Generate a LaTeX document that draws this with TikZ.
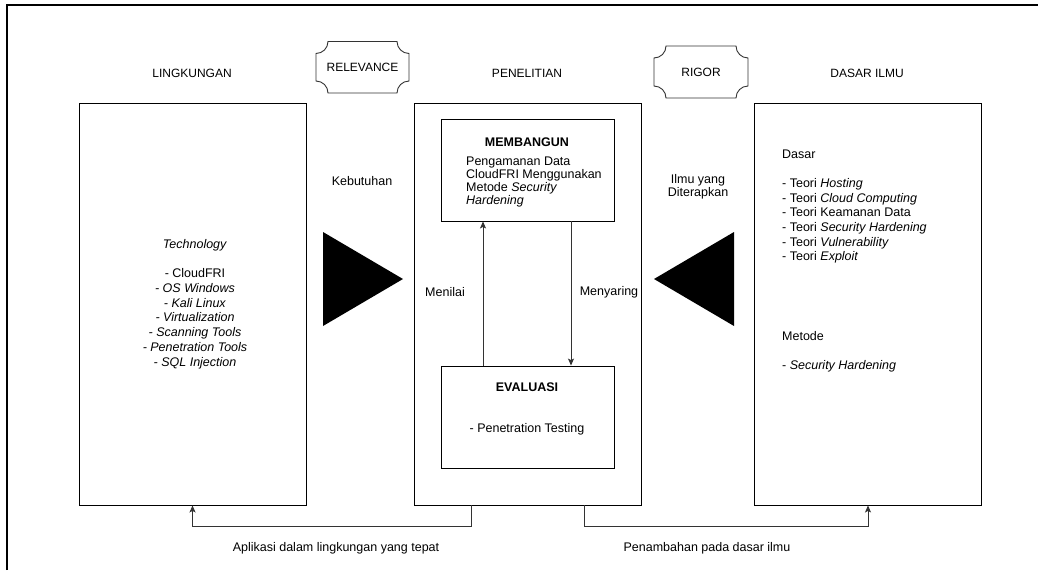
\documentclass[tikz,border=0pt]{standalone}
\usepackage{fontspec}
\setmainfont{Liberation Sans}
\usetikzlibrary{arrows.meta}
\begin{document}
\begin{tikzpicture}[x=1pt,y=-1pt,
  box/.style={draw=black, line width=0.9pt, inner sep=0pt},
  lbl/.style={inner sep=0pt, font=\fontsize{12}{14}\selectfont},
  txt/.style={inner sep=0pt, font=\fontsize{12.5}{14.7}\selectfont},
  arr/.style={draw=black!80, line width=0.9pt, -{Stealth[length=7pt,width=6pt,inset=1.5pt]}},
  plaque/.style={draw=black!80, line width=0.9pt},
  tri/.style={fill=black}]
\useasboundingbox (0,0) rectangle (1038,570);
% outer frame
\draw[line width=1.3pt] (7,570) -- (7,5) -- (1038,5);

% column titles
\node[lbl] (lingkungan) at (192,73) {LINGKUNGAN};
\node[lbl] (penelitian) at (527,73) {PENELITIAN};
\node[lbl] (dasarilmu) at (867,73) {DASAR ILMU};

% plaques
\draw[plaque] (328,41.5) -- (397,41.5) .. controls (397,48.1) and (402.4,53.5) .. (409,53.5)
  -- (409,81) .. controls (402.4,81) and (397,86.4) .. (397,93)
  -- (328,93) .. controls (328,86.4) and (322.6,81) .. (316,81)
  -- (316,53.5) .. controls (322.6,53.5) and (328,48.1) .. (328,41.5) -- cycle;
\node[lbl] (relevance) at (362.5,67.5) {RELEVANCE};
\draw[plaque] (666,46) -- (736,46) .. controls (736,52.6) and (741.4,58) .. (748,58)
  -- (748,86) .. controls (741.4,86) and (736,91.4) .. (736,98)
  -- (666,98) .. controls (666,91.4) and (660.6,86) .. (654,86)
  -- (654,58) .. controls (660.6,58) and (666,52.6) .. (666,46) -- cycle;
\node[lbl] (rigor) at (701,72) {RIGOR};

% main boxes
\node[box, minimum width=227pt, minimum height=402pt] (ling) at (192.5,304) {};
\node[box, minimum width=227pt, minimum height=402pt] (pen) at (527.5,304) {};
\node[box, minimum width=227pt, minimum height=402pt] (dasar) at (868,304) {};

% left box text
\node[txt, align=center] (tech) at (195,304) {\textit{Technology}\\[14.7pt]
- CloudFRI\\
\textit{- OS Windows}\\
\textit{- Kali Linux}\\
\textit{- Virtualization}\\
\textit{- Scanning Tools}\\
\textit{- Penetration Tools}\\
\textit{- SQL Injection}};

% triangles and side labels
\node[txt] (kebutuhan) at (362,181) {Kebutuhan};
\fill[tri] (323,232) -- (403,279) -- (323,326) -- cycle;
\node[txt, align=center, font=\fontsize{12.5}{13}\selectfont] (ilmu) at (698,186.5) {Ilmu yang\\Diterapkan};
\fill[tri] (734,232) -- (654,279) -- (734,326) -- cycle;

% inner boxes
\node[box, minimum width=173pt, minimum height=102pt] (bangun) at (527.5,170) {};
\node[txt, font=\fontsize{12.5}{14.7}\bfseries] (bangunt) at (527,142) {MEMBANGUN};
\node[txt, align=left, anchor=west, font=\fontsize{12.5}{13}\selectfont] (bangunb) at (466,181.5)
  {Pengamanan Data\\CloudFRI Menggunakan\\Metode \textit{Security}\\\textit{Hardening}};

\node[box, minimum width=173pt, minimum height=102pt] (eval) at (527.5,417) {};
\node[txt, font=\fontsize{12.5}{14.7}\bfseries] (evalt) at (527,387) {EVALUASI};
\node[txt] (evalb) at (527,429) {- Penetration Testing};

\draw[arr] ([xshift=-44.5pt]eval.north) -- ([xshift=-44.5pt]bangun.south);
\draw[arr] ([xshift=43.5pt]bangun.south) -- ([xshift=43.5pt]eval.north);
\node[txt] (menilai) at (445,292) {Menilai};
\node[txt] (menyaring) at (609,292) {Menyaring};

% right box text
\node[txt, align=left, anchor=west] (dasartext) at (782,206.5) {Dasar\\[14.7pt]
- Teori \textit{Hosting}\\
- Teori \textit{Cloud Computing}\\
- Teori Keamanan Data\\
- Teori \textit{Security Hardening}\\
- Teori \textit{Vulnerability}\\
- Teori \textit{Exploit}};
\node[txt, align=left, anchor=west] (metode) at (782,351.7) {Metode\\[14.7pt]
- \textit{Security Hardening}};

% bottom connectors
\draw[arr] ([xshift=-56.5pt]pen.south) -- ++(0,21) -| (ling.south);
\draw[arr] ([xshift=56.5pt]pen.south) -- ++(0,21) -| (dasar.south);
\node[txt] (aplikasi) at (336,548) {Aplikasi dalam lingkungan yang tepat};
\node[txt] (penambahan) at (707,548) {Penambahan pada dasar ilmu};
\end{tikzpicture}
\end{document}
